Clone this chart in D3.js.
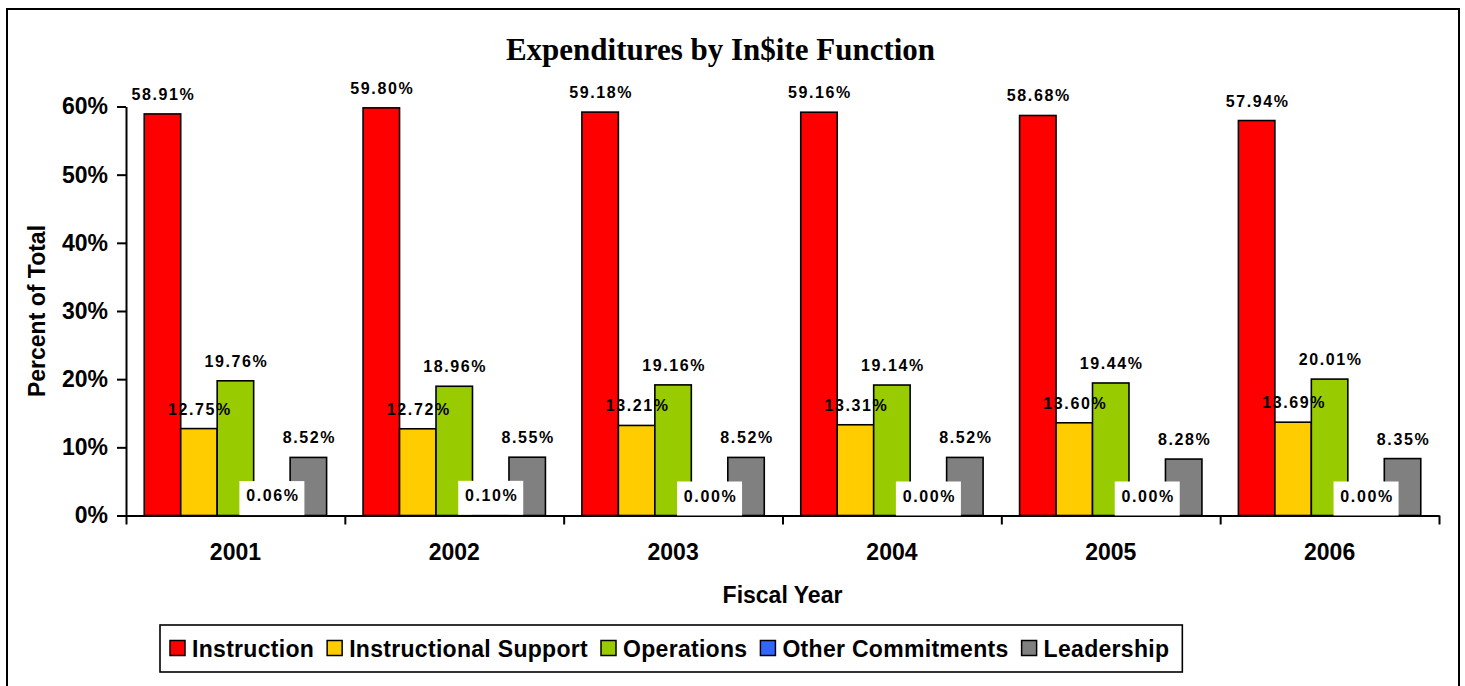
<!DOCTYPE html>
<html>
<head>
<meta charset="utf-8">
<title>Expenditures by In$ite Function</title>
<script src="https://d3js.org/d3.v7.min.js"></script>
<style>
  body { margin: 0; background: #fff; }
  svg text { font-family: "Liberation Sans", Arial, sans-serif; font-weight: bold; fill: #000; }
</style>
</head>
<body>
<svg id="drawing_bar"></svg>
<script>
// data
const years = ["2001", "2002", "2003", "2004", "2005", "2006"];
const seriesNames = ["Instruction", "Instructional Support", "Operations", "Other Commitments", "Leadership"];
const seriesColors = ["#ff0000", "#ffcc00", "#99cc00", "#3366ff", "#808080"];
const instruction = [58.91, 59.80, 59.18, 59.16, 58.68, 57.94];
const instructionalSupport = [12.75, 12.72, 13.21, 13.31, 13.60, 13.69];
const operations = [19.76, 18.96, 19.16, 19.14, 19.44, 20.01];
const otherCommitments = [0.06, 0.10, 0.00, 0.00, 0.00, 0.00];
const leadership = [8.52, 8.55, 8.52, 8.52, 8.28, 8.35];
const yTicks = [0, 10, 20, 30, 40, 50, 60];

class BarChart {
    constructor() {
        this.width = 1465;
        this.height = 686;
        this.margin = { top: 106.5, right: 26, bottom: 170.5, left: 126 };
        this.series = [instruction, instructionalSupport, operations, otherCommitments, leadership];
    }

    init() {
        this.svg = d3.select('#drawing_bar')
            .attr('width', this.width)
            .attr('height', this.height);

        // outer frame
        this.svg.append('rect')
            .attr('x', 7).attr('y', 9)
            .attr('width', 1452).attr('height', 720)
            .attr('fill', 'none').attr('stroke', '#000').attr('stroke-width', 2);

        this.svg.append('text')
            .attr('x', 720.5).attr('y', 60)
            .attr('text-anchor', 'middle')
            .style('font-family', '"Liberation Serif", "Times New Roman", serif')
            .style('font-size', '31px')
            .text('Expenditures by In$ite Function');

        this.innerWidth = this.width - this.margin.left - this.margin.right;
        this.innerHeight = this.height - this.margin.top - this.margin.bottom;

        this.chart = this.svg.append('g')
            .attr('transform', `translate(${this.margin.left}, ${this.margin.top})`);

        this.x0 = d3.scaleBand().domain(years).range([0, this.innerWidth]);
        this.x1 = d3.scaleBand().domain(seriesNames).range([0, this.x0.bandwidth()]).paddingOuter(0.5);
        this.yscale = d3.scaleLinear().domain([0, 60]).range([this.innerHeight, 0]);
        this.color = d3.scaleOrdinal().domain(seriesNames).range(seriesColors);

        this.table = years.map((yr, i) => ({
            year: yr,
            values: seriesNames.map((s, j) => ({ name: s, value: this.series[j][i] }))
        }));

        this.axes();
        this.render();
        this.legend();
    }

    axes() {
        const yaxis = d3.axisLeft(this.yscale)
            .tickValues(yTicks)
            .tickFormat(d => d + '%')
            .tickSize(9).tickPadding(9).tickSizeOuter(0);
        const yg = this.chart.append('g').call(yaxis);
        yg.selectAll('text').style('font-size', '23px').style('font-family', null);
        yg.selectAll('line, path').attr('stroke', '#000').attr('stroke-width', 2);

        // category boundary ticks
        const bounds = d3.scaleLinear().domain([0, years.length]).range([0, this.innerWidth]);
        const xb = d3.axisBottom(bounds).ticks(years.length).tickFormat('').tickSize(9).tickSizeOuter(0);
        const xg = this.chart.append('g')
            .attr('transform', `translate(0, ${this.innerHeight})`)
            .call(xb);
        xg.selectAll('line, path').attr('stroke', '#000').attr('stroke-width', 2);

        const xaxis = d3.axisBottom(this.x0).tickSize(0).tickPadding(28);
        const xl = this.chart.append('g')
            .attr('transform', `translate(0, ${this.innerHeight})`)
            .call(xaxis);
        xl.select('.domain').remove();
        xl.selectAll('text').style('font-size', '23px').style('font-family', null);

        this.svg.append('text')
            .attr('x', this.margin.left + this.innerWidth / 2).attr('y', 603)
            .attr('text-anchor', 'middle')
            .style('font-size', '23px')
            .text('Fiscal Year');

        this.svg.append('text')
            .attr('transform', `translate(45, ${this.margin.top + this.innerHeight / 2}) rotate(-90)`)
            .attr('text-anchor', 'middle')
            .style('font-size', '23px')
            .text('Percent of Total');
    }

    render() {
        const groups = this.chart.append('g').selectAll('g').data(this.table).enter()
            .append('g')
            .attr('transform', d => `translate(${this.x0(d.year)}, 0)`);

        groups.selectAll('rect').data(d => d.values).enter()
            .append('rect')
            .attr('x', d => this.x1(d.name))
            .attr('y', d => this.yscale(d.value))
            .attr('width', this.x1.bandwidth())
            .attr('height', d => this.innerHeight - this.yscale(d.value))
            .attr('fill', d => this.color(d.name))
            .attr('stroke', d => d.value > 0 ? '#000' : 'none')
            .attr('stroke-width', 1.6);

        // data labels
        const labels = this.chart.append('g').selectAll('g').data(this.table).enter()
            .append('g')
            .attr('transform', d => `translate(${this.x0(d.year)}, 0)`)
            .selectAll('g').data(d => d.values).enter()
            .append('g')
            .attr('transform', d => `translate(${this.x1(d.name) + this.x1.bandwidth() / 2}, ${this.yscale(d.value) - 14})`);

        labels.filter(d => d.name === 'Other Commitments')
            .append('rect')
            .attr('x', -32.5).attr('y', -20)
            .attr('width', 65).attr('height', 34)
            .attr('fill', '#fff');

        labels.append('text')
            .attr('x', 1)
            .attr('text-anchor', 'middle')
            .style('font-size', '16px')
            .style('letter-spacing', '1.6px')
            .text(d => d.value.toFixed(2) + '%');
    }

    legend() {
        const lg = this.svg.append('g');
        const box = lg.append('rect')
            .attr('fill', '#fff').attr('stroke', '#000').attr('stroke-width', 1.6);
        let x = 170;
        seriesNames.forEach(s => {
            lg.append('rect')
                .attr('x', x).attr('y', 640.5)
                .attr('width', 15).attr('height', 15)
                .attr('fill', this.color(s)).attr('stroke', '#000').attr('stroke-width', 1.5);
            const t = lg.append('text')
                .attr('x', x + 22).attr('y', 656.5)
                .style('font-size', '23px')
                .style('letter-spacing', '0.3px')
                .text(s);
            x += 22 + t.node().getComputedTextLength() + 13;
        });
        box.attr('x', 160).attr('y', 625).attr('width', x - 160).attr('height', 47);
    }
}

const bar = new BarChart();
bar.init();
</script>
</body>
</html>
